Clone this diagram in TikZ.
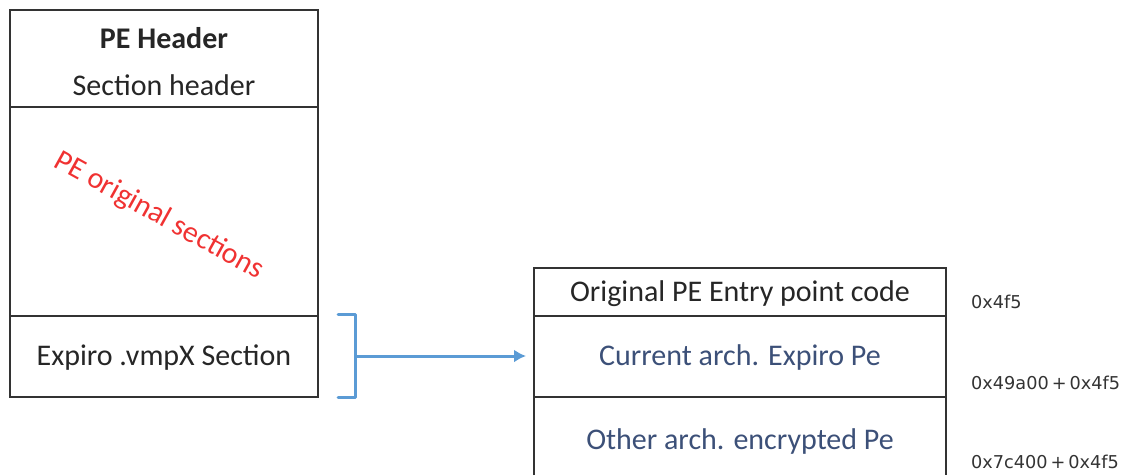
\documentclass[tikz,border=0pt]{standalone}
\usepackage{fontspec}
\setmainfont{Carlito}
\newfontfamily\hexfont{DejaVu Sans}
\usetikzlibrary{arrows.meta}
\begin{document}
\begin{tikzpicture}[x=1pt,y=-1pt,
  boxline/.style={draw=black!80,line width=2pt},
  lbl/.style={font=\fontsize{30}{34}\selectfont,text=black!85,inner sep=0pt},
  bluelbl/.style={font=\fontsize{30}{34}\selectfont,text={rgb,255:red,60;green,80;blue,120},inner sep=0pt},
  hexlbl/.style={font=\hexfont\fontsize{17.7}{20}\selectfont,text=black!80,anchor=west,inner sep=0pt},
  conn/.style={draw={rgb,255:red,91;green,155;blue,213},line width=3pt}]
\useasboundingbox (0,0) rectangle (1129,475);
% left box
\draw[boxline] (10,10) rectangle (318,397);
\draw[boxline] (10,107) -- (318,107);
\draw[boxline] (10,316) -- (318,316);
\node[lbl,font=\fontsize{30}{34}\selectfont\bfseries] (peh) at (164,38) {PE Header};
\node[lbl] (sech) at (164,85) {Section header};
\node[lbl,text={rgb,255:red,240;green,50;blue,50},rotate=-29] (orig) at (159,216) {PE original sections};
\node[lbl] (vmp) at (164,358) {Expiro .vmpX Section};
% right box
\draw[boxline] (534,475) -- (534,268) -- (946,268) -- (946,475);
\draw[boxline] (534,316) -- (946,316);
\draw[boxline] (534,397) -- (946,397);
\node[lbl] (oep) at (740,294) {Original PE Entry point code};
\node[bluelbl] (cur) at (740,357) {Current arch. Expiro Pe};
\node[bluelbl] (oth) at (740,441) {Other arch. encrypted Pe};
\node[hexlbl] (h1) at (971,302) {0x4f5};
\node[hexlbl] (h2) at (971,383) {0x49a00\,+\,0x4f5};
\node[hexlbl] (h3) at (971,462) {0x7c400\,+\,0x4f5};
% bracket and arrow
\coordinate (bm) at (355,356);
\coordinate (tip) at (526,356);
\draw[conn,line cap=round,line join=round] (338,314) -- (355,314) -- (355,397) -- (338,397);
\draw[conn,-{Latex[length=12pt,width=13pt]}] (bm) -- (tip);
\end{tikzpicture}
\end{document}
